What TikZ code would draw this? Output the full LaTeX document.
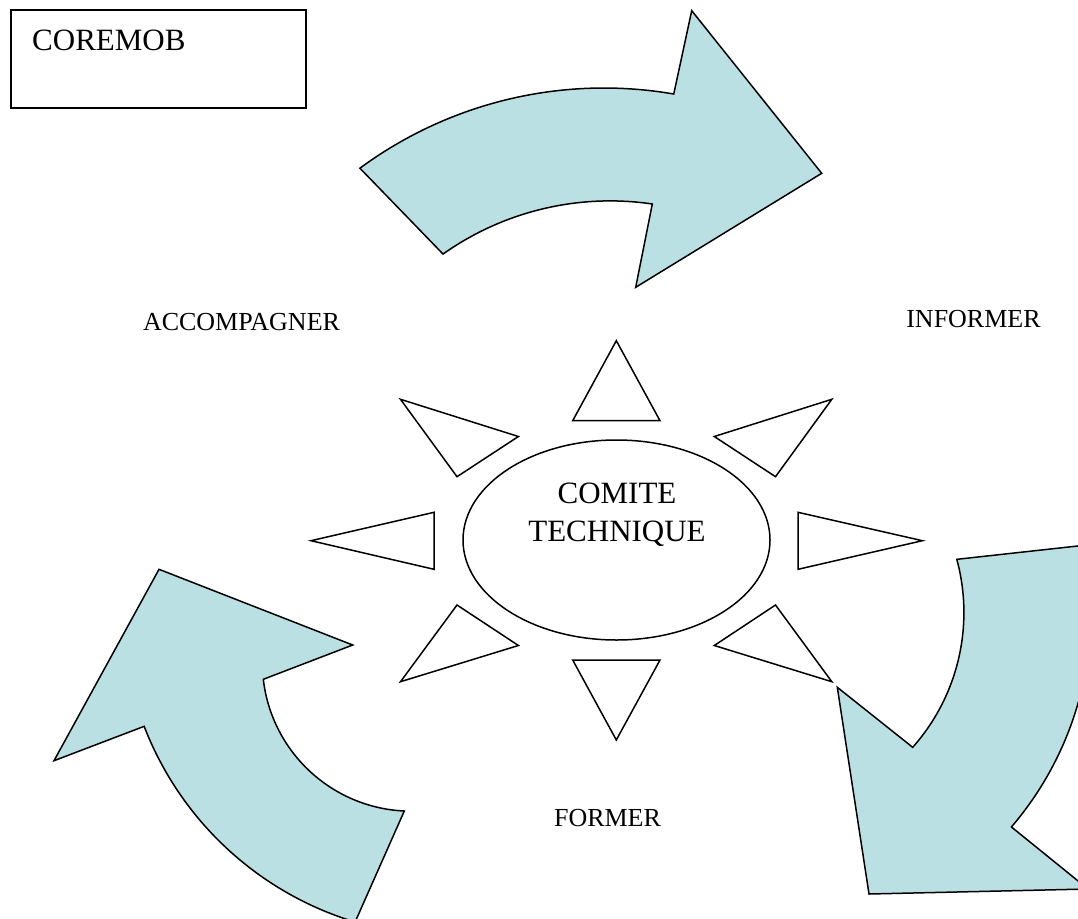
\documentclass[tikz,border=0pt]{standalone}
\usepackage{fontspec}
\setmainfont{Liberation Serif}
\usepackage{tikz}
\usetikzlibrary{shapes.geometric}

\definecolor{arrowblue}{RGB}{187,224,227}

\begin{document}
\begin{tikzpicture}[x=1pt,y=-1pt,
    bigarrow/.style={draw=black,fill=arrowblue,line width=1.5pt,line join=miter},
    ray/.style={draw=black,line width=1.5pt},
    word/.style={anchor=base,inner sep=0pt,font=\fontsize{26}{31}\selectfont}]

  \useasboundingbox (0,0) rectangle (1078,918);
  \clip (0,0) rectangle (1078,918);

  % box in the corner
  \draw[line width=1.5pt] (11,10) rectangle (306,108);
  \node[anchor=base west,inner sep=0pt,font=\fontsize{31}{37}\selectfont] (coremob) at (32,50) {COREMOB};

  % the three curved arrows
  \draw[bigarrow] (603.8,499) ++(-126.4:411) arc[start angle=-126.4,end angle=-80.2,radius=411]
    -- (691.7,10.7) -- (821.7,173.3) -- (635.7,287.3) -- (652.3,204)
    arc[start angle=-81.6,end angle=-125.3,radius=289.1] -- cycle;
  \draw[bigarrow] (957,559.3) -- (1084,545.3) arc[start angle=-11.7,end angle=40.6,radius=330]
    -- (1088,889) -- (869,894) -- (837.3,687.3) -- (912.7,747.3)
    arc[start angle=41.6,end angle=-15.2,radius=203] -- cycle;
  \draw[bigarrow] (159,569.3) -- (352.7,645) -- (263.3,679.3)
    arc[start angle=173.4,end angle=92.7,radius=149] -- (355.1,922)
    arc[start angle=106.8,end angle=158.9,radius=327.6] -- (54,760.7) -- cycle;

  % the sun
  \node[ellipse,draw,line width=1.5pt,minimum width=307pt,minimum height=200pt,inner sep=0pt] (comite) at (616.5,540) {};
  \node[word,font=\fontsize{31}{37}\selectfont] (comite1) at (617,503) {COMITE};
  \node[word,font=\fontsize{31}{37}\selectfont] (comite2) at (617,541) {TECHNIQUE};

  \draw[ray] (616.3,340.7) -- (572.7,420.7) -- (660,420.7) -- cycle;
  \draw[ray] (400.5,399.3) -- (518.4,436.5) -- (457,476.7) -- cycle;
  \draw[ray] (831.8,399.3) -- (714.3,436.5) -- (775.5,476.7) -- cycle;
  \draw[ray] (311,540.7) -- (434,512.3) -- (434,569.3) -- cycle;
  \draw[ray] (922.4,540.7) -- (798,512.3) -- (798,569.3) -- cycle;
  \draw[ray] (457,605) -- (518.4,645.5) -- (400.5,681.7) -- cycle;
  \draw[ray] (775.5,605) -- (714.3,645.5) -- (831.8,681.7) -- cycle;
  \draw[ray] (572.7,660) -- (660,660) -- (616.3,740) -- cycle;

  % labels
  \node[word] (accomp) at (241.5,330) {ACCOMPAGNER};
  \node[word] (informer) at (973.5,327.5) {INFORMER};
  \node[word] (former) at (607.5,826) {FORMER};

\end{tikzpicture}
\end{document}
